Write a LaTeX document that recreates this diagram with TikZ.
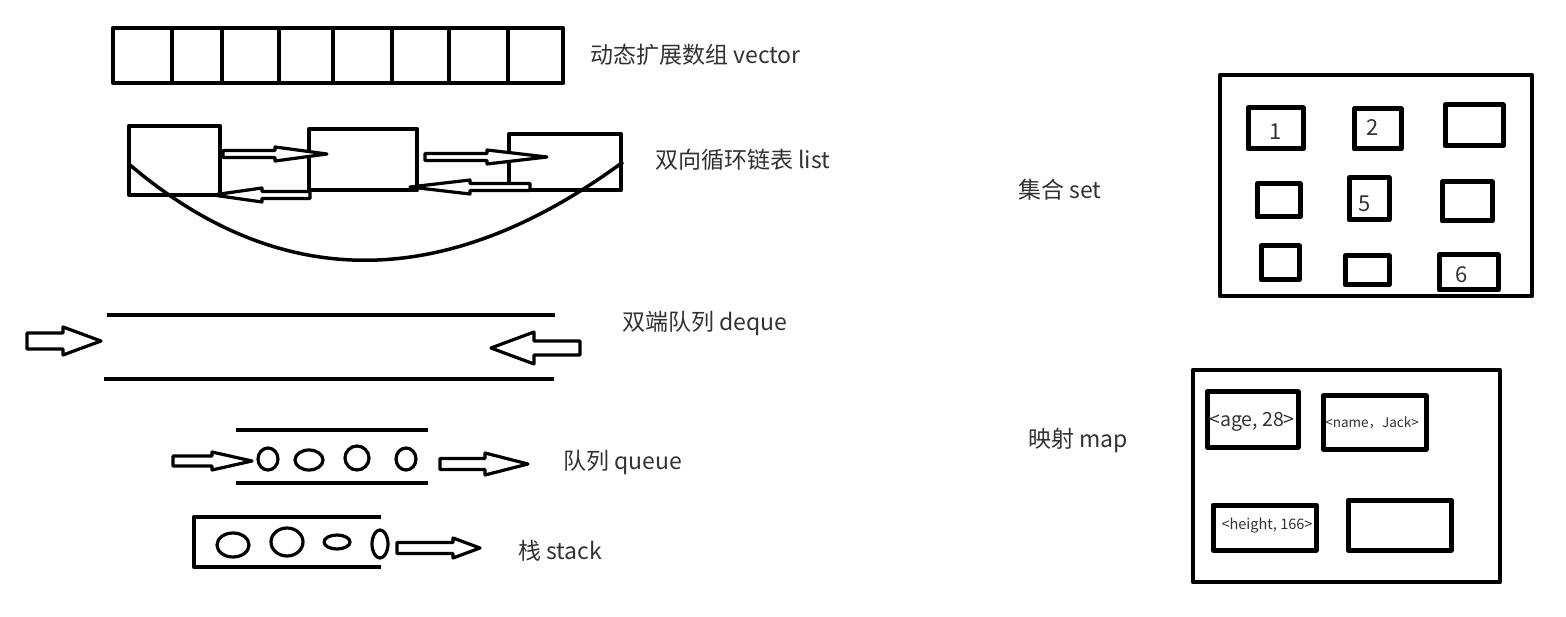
\documentclass[tikz,border=0pt]{standalone}
\usepackage{fontspec}
\setmainfont{Noto Sans CJK SC}
\usetikzlibrary{positioning}

\definecolor{labelgray}{RGB}{50,50,50}

% hollow block arrow: tail x, head base x, tip x, y, shaft half, head half
\newcommand{\hollowarrow}[6]{%
  \draw[blockarrow] (#1,#4-#5) -- (#2,#4-#5) -- (#2,#4-#6) -- (#3,#4)
    -- (#2,#4+#6) -- (#2,#4+#5) -- (#1,#4+#5) -- cycle;}

\begin{document}
\begin{tikzpicture}[
    x=1pt, y=-1pt,
    line join=round,
    title/.style={
        anchor=west,
        inner sep=0pt,
        text=labelgray,
        font=\fontsize{23}{26}\selectfont
    },
    nodebox/.style={
        draw,
        line width=4.5pt,
        inner sep=0pt
    },
    itembox/.style={
        draw,
        line width=5pt,
        inner sep=0pt
    },
    itemtext/.style={
        inner sep=0pt,
        text=labelgray
    },
    blockarrow/.style={
        draw,
        fill=white,
        line width=3.2pt
    },
    rail/.style={
        line width=4.5pt
    },
    item/.style={
        line width=3.2pt
    }
]
\useasboundingbox (0,0) rectangle (1566,617);

% vector
\draw[line width=4.5pt] (113,28) rectangle (563,83);
\foreach \x in {172,222,279,333,392,449,508}
    \draw[line width=4pt] (\x,28) -- (\x,83);
\node[title] (vec) at (590,55) {动态扩展数组 vector};

% list
\node[nodebox, minimum width=91pt, minimum height=69pt] (n1) at (174.5,160.5) {};
\node[nodebox, minimum width=108pt, minimum height=61pt] (n2) at (363,159.5) {};
\node[nodebox, minimum width=112pt, minimum height=56pt] (n3) at (565,162) {};
\draw[line width=3.5pt] (130,165) .. controls (281,293) and (446,292) .. (623,162);
\hollowarrow{223}{275}{327}{154}{3.5}{7}
\hollowarrow{425}{487}{547}{157}{3.5}{7}
\hollowarrow{530}{470}{410}{187}{3.5}{7}
\hollowarrow{310}{262}{213}{195}{3.5}{7}
\node[title] (lst) at (655,160) {双向循环链表 list};

% deque
\draw[rail] (107,315) -- (555,315);
\draw[rail] (104,379) -- (554,379);
\hollowarrow{27}{63}{101}{341}{8}{14}
\hollowarrow{580}{534}{491}{348}{7}{16}
\node[title] (dq) at (622,323) {双端队列 deque};

% queue
\draw[rail] (236,430) -- (428,430);
\draw[rail] (236,483) -- (428,483);
\hollowarrow{173}{212}{252}{461}{5}{9}
\draw[item] (268,459) ellipse [x radius=10, y radius=11];
\draw[item] (309,460) ellipse [x radius=14, y radius=10];
\draw[item] (357,458) ellipse [x radius=12, y radius=12];
\draw[item] (406,459) ellipse [x radius=10, y radius=11];
\hollowarrow{440}{485}{528}{464}{5.5}{11}
\node[title] (que) at (563,462) {队列 queue};

% stack
\draw[rail] (381,517) -- (194,517) -- (194,567) -- (381,567);
\draw[item] (233,545) ellipse [x radius=16, y radius=12];
\draw[item] (287,542) ellipse [x radius=16, y radius=14];
\draw[item] (337,542) ellipse [x radius=13, y radius=7];
\draw[item] (380,544) ellipse [x radius=8, y radius=14];
\hollowarrow{397}{453}{480}{548}{5.5}{10}
\node[title] (stk) at (518,551) {栈 stack};

% set
\node[title] (st) at (1018,190) {集合 set};
\draw[line width=4.5pt] (1220,75) rectangle (1532,296);
\node[itembox, minimum width=55pt, minimum height=41pt] (s1) at (1275.5,128.5) {};
\node[itembox, minimum width=47pt, minimum height=40pt] (s2) at (1377.5,129) {};
\node[itembox, minimum width=58pt, minimum height=41pt] (s3) at (1474,125.5) {};
\node[itembox, minimum width=43pt, minimum height=33pt] (s4) at (1278.5,200.5) {};
\node[itembox, minimum width=40pt, minimum height=42pt] (s5) at (1369,199) {};
\node[itembox, minimum width=50pt, minimum height=39pt] (s6) at (1467,201.5) {};
\node[itembox, minimum width=38pt, minimum height=34pt] (s7) at (1280,263) {};
\node[itembox, minimum width=44pt, minimum height=29pt] (s8) at (1367,270.5) {};
\node[itembox, minimum width=59pt, minimum height=35pt] (s9) at (1468.5,272.5) {};
\node[itemtext, font=\fontsize{22}{24}\selectfont] at (1276,132) {1};
\node[itemtext, font=\fontsize{22}{24}\selectfont] at (1373,128) {2};
\node[itemtext, font=\fontsize{22}{24}\selectfont] at (1365,204) {5};
\node[itemtext, font=\fontsize{22}{24}\selectfont] at (1462,275) {6};

% map
\node[title] (mp) at (1028,440) {映射 map};
\draw[line width=4.5pt] (1193,370) rectangle (1500,582);
\node[itembox, minimum width=91pt, minimum height=55pt] (m1) at (1252.5,419.5) {};
\node[itembox, minimum width=103pt, minimum height=53pt] (m2) at (1374.5,422.5) {};
\node[itembox, minimum width=103pt, minimum height=45pt] (m3) at (1264.5,527.5) {};
\node[itembox, minimum width=103pt, minimum height=50pt] (m4) at (1399.5,525) {};
\node[itemtext, font=\fontsize{19.5}{21}\selectfont] at (1252,422) {<age, 28>};
\node[itemtext, font=\fontsize{13.5}{15}\selectfont] at (1372,423) {<name，Jack>};
\node[itemtext, font=\fontsize{14.5}{16}\selectfont] at (1267,526) {<height, 166>};
\end{tikzpicture}
\end{document}
